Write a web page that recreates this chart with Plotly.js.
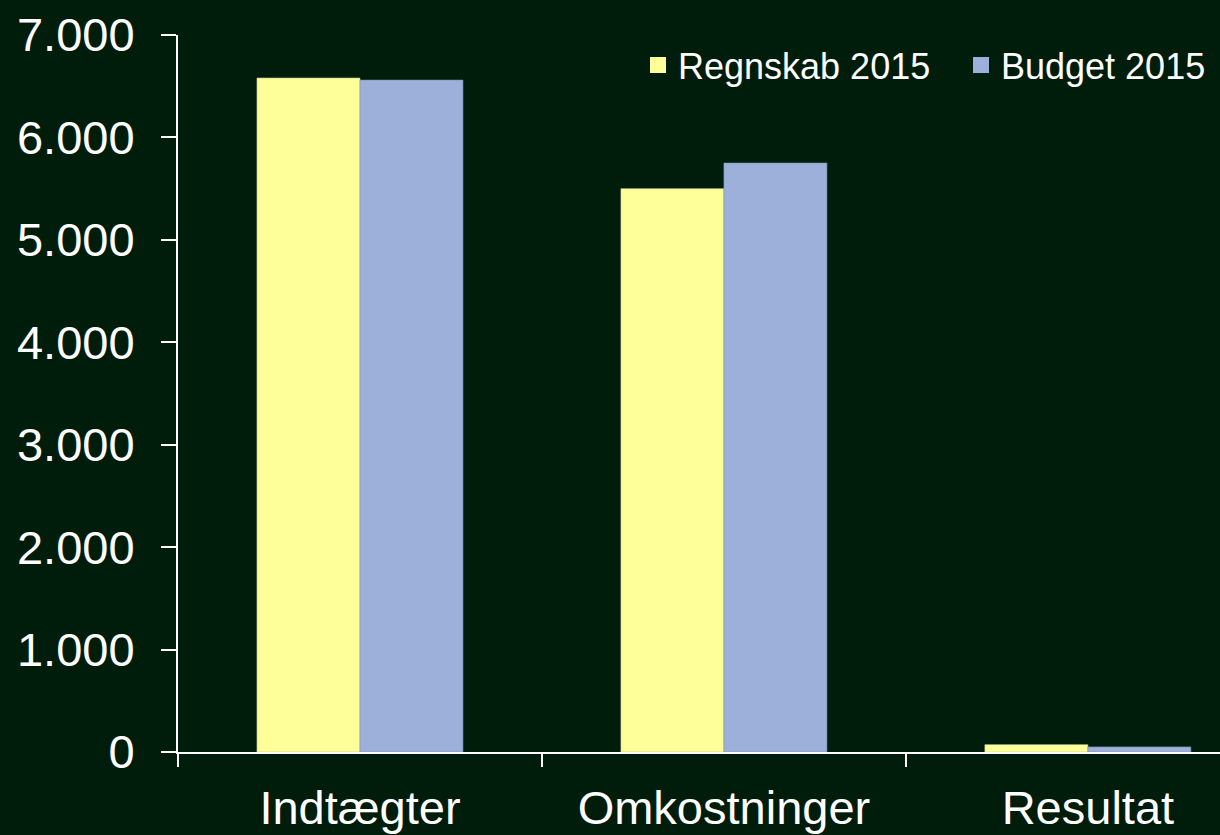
<!DOCTYPE html>
<html>
<head>
<meta charset="utf-8">
<script src="https://cdn.plot.ly/plotly-3.0.1.min.js"></script>
<style>
html,body{margin:0;padding:0;background:#001c0a;}
#chart{width:1220px;height:835px;}
</style>
</head>
<body>
<div id="chart"></div>
<script>
const categories = ["Indtægter", "Omkostninger", "Resultat"];
const regnskab2015 = [6580, 5500, 72];
const budget2015 = [6560, 5750, 50];
const seriesNames = ["Regnskab 2015", "Budget 2015"];
const seriesColors = ["#FFFF99", "#9DB0DA"];
const yTickVals = [0, 1000, 2000, 3000, 4000, 5000, 6000, 7000];
const yTickText = ["0", "1.000", "2.000", "3.000", "4.000", "5.000", "6.000", "7.000"];

const FONT = '"Liberation Sans", Arial, sans-serif';

const traces = [
  {
    type: 'bar', name: seriesNames[0], x: categories, y: regnskab2015, showlegend: false,
    marker: {color: seriesColors[0], line: {color: '#c8c890', width: 0.6}}
  },
  {
    type: 'bar', name: seriesNames[1], x: categories, y: budget2015, showlegend: false,
    marker: {color: seriesColors[1], line: {color: '#7f90b0', width: 0.6}}
  },
  {
    type: 'scatter', mode: 'markers', name: seriesNames[0], x: [null], y: [null], showlegend: true,
    marker: {symbol: 'square', size: 16, color: seriesColors[0]}
  },
  {
    type: 'scatter', mode: 'markers', name: seriesNames[1], x: [null], y: [null], showlegend: true,
    marker: {symbol: 'square', size: 16, color: seriesColors[1]}
  }
];

const layout = {
  width: 1220, height: 835,
  paper_bgcolor: '#001c0a', plot_bgcolor: '#001c0a',
  font: {family: FONT, color: '#ffffff'},
  margin: {l: 178, r: 0, t: 35, b: 83, pad: 0, autoexpand: false},
  barmode: 'group', bargap: 0.434, bargroupgap: 0,
  showlegend: true,
  legend: {
    orientation: 'h', x: (638 - 178) / 1042, xanchor: 'left', y: 0.958, yanchor: 'middle',
    font: {family: FONT, size: 36, color: '#ffffff'},
    bgcolor: 'rgba(0,0,0,0)', entrywidth: 278, entrywidthmode: 'pixels',
    traceorder: 'normal', itemclick: false
  },
  xaxis: {
    type: 'category', categoryorder: 'array', categoryarray: categories,
    range: [-0.5, 2.363], fixedrange: true, automargin: false,
    showline: true, linecolor: '#ffffff', linewidth: 2,
    ticks: 'outside', tickson: 'boundaries', ticklen: 13, tickwidth: 2, tickcolor: '#ffffff',
    showgrid: false, zeroline: false,
    tickfont: {family: FONT, size: 47, color: '#ffffff'},
    ticklabelstandoff: 14
  },
  yaxis: {
    range: [0, 7000], fixedrange: true, automargin: false,
    tickvals: yTickVals, ticktext: yTickText,
    showline: true, linecolor: '#ffffff', linewidth: 2,
    ticks: 'outside', ticklen: 15, tickwidth: 2, tickcolor: '#ffffff',
    showgrid: false, zeroline: false,
    tickfont: {family: FONT, size: 47, color: '#ffffff'},
    ticklabelstandoff: 17
  }
};

Plotly.newPlot('chart', traces, layout, {displayModeBar: false, staticPlot: true});
</script>
</body>
</html>
